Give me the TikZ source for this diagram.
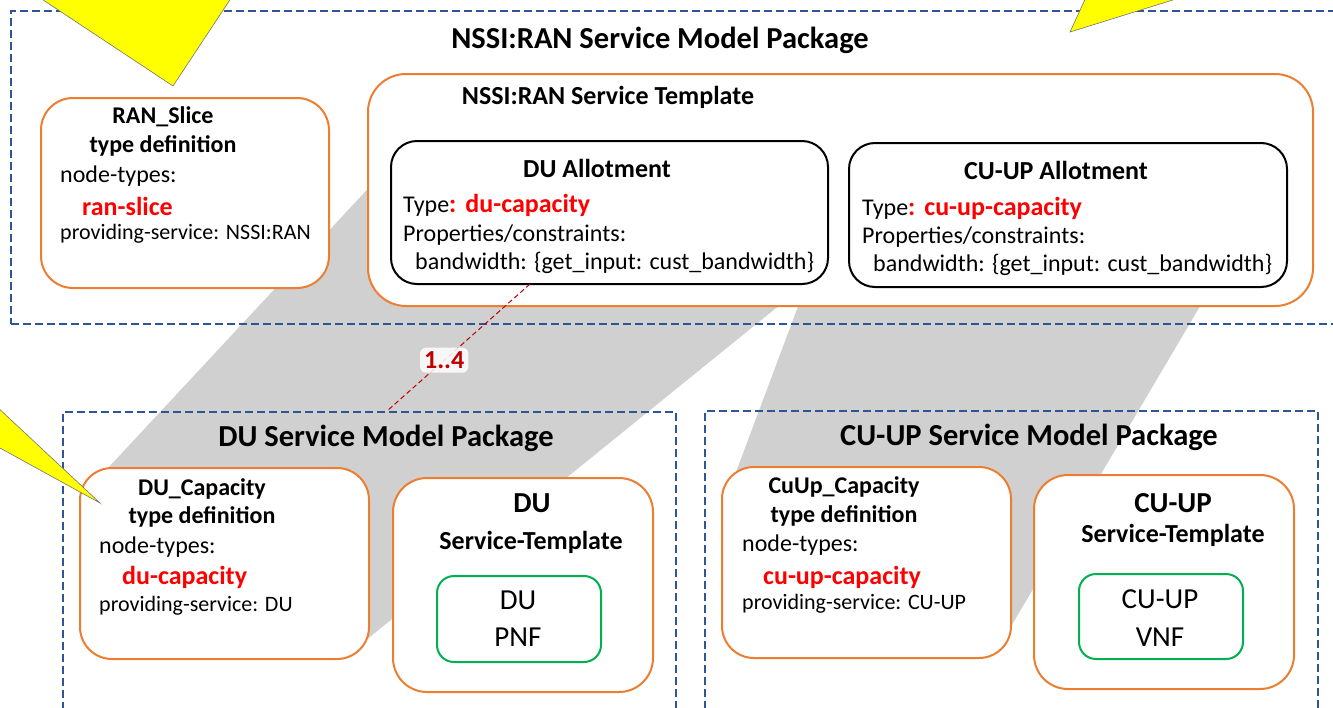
\documentclass[tikz,border=0pt]{standalone}
\usepackage{fontspec}
\setmainfont{Carlito}
\definecolor{pkgblue}{RGB}{47,85,151}
\definecolor{boxorange}{RGB}{237,125,49}
\definecolor{boxgreen}{RGB}{0,176,80}
\definecolor{typered}{RGB}{255,0,0}
\definecolor{linkred}{RGB}{192,0,0}
\definecolor{calloutyellow}{RGB}{255,255,0}
\definecolor{bandgray}{RGB}{208,208,208}
\newcommand{\fsPkg}{\fontsize{30.5}{36}\selectfont\bfseries}
\newcommand{\fsHead}{\fontsize{26}{31}\selectfont\bfseries}
\newcommand{\fsBox}{\fontsize{24}{29}\selectfont\bfseries}
\newcommand{\fsText}{\fontsize{24}{29}\selectfont}
\newcommand{\fsRed}{\fontsize{26}{31}\selectfont\bfseries\color{typered}}
\newcommand{\fsProv}{\fontsize{22}{26}\selectfont}
\newcommand{\fsBig}{\fontsize{29}{34}\selectfont}

\begin{document}
\begin{tikzpicture}[x=1pt, y=-1pt,
    pkg/.style={draw=pkgblue, line width=1.8pt, dash pattern=on 8pt off 4pt, anchor=north west, inner sep=0pt},
    obox/.style={draw=boxorange, line width=2pt, fill=white, rounded corners=32pt, anchor=north west, inner sep=0pt},
    kbox/.style={draw=black, line width=2pt, fill=white, rounded corners=26pt, anchor=north west, inner sep=0pt},
    gbox/.style={draw=boxgreen, line width=2pt, fill=white, rounded corners=17pt, anchor=north west, inner sep=0pt},
    txt/.style={anchor=west, inner sep=0pt, font=\fsText},
    ctxt/.style={anchor=center, inner sep=0pt},
    callout/.style={fill=calloutyellow, draw=black!55, line width=0.6pt}]
    \useasboundingbox (0,0) rectangle (1333,707);
    \clip (0,0) rectangle (1333,707);

    % Gray bands from the allotments down to the capacity types
    \fill[bandgray] (390,165) -- (807,283) -- (360,645) -- (108,468) -- cycle;
    \fill[bandgray] (848,173) -- (1212,286) -- (1000,645) -- (736,472) -- cycle;

    % NSSI:RAN package
    \node[pkg, minimum width=1340pt, minimum height=313pt] (nssipkg) at (10,10) {};
    \node[ctxt, font=\fsPkg] (nssititle) at (660,40) {NSSI:RAN Service Model Package};

    % RAN_Slice type definition
    \node[obox, minimum width=288pt, minimum height=190pt] (ranslice) at (40,97) {};
    \node[ctxt, font=\fsBox] (ransliceA) at (163,117) {RAN\_Slice};
    \node[ctxt, font=\fsBox] (ransliceB) at (163,146) {type definition};
    \node[txt] (ransliceC) at (60,176) {node-types:};
    \node[txt, font=\fsRed] (ransliceD) at (82,206) {ran-slice};
    \node[txt, font=\fsProv] (ransliceE) at (60,234) {providing-service: NSSI:RAN};

    % NSSI:RAN service template
    \node[obox, rounded corners=38pt, minimum width=945pt, minimum height=232pt] (nssist) at (367,73) {};
    \node[ctxt, font=\fsHead] (nssisttitle) at (608,97) {NSSI:RAN Service Template};

    % DU allotment
    \node[kbox, minimum width=437pt, minimum height=143pt] (duallot) at (390,140) {};
    \node[ctxt, font=\fsHead] (duallotA) at (597,168) {DU Allotment};
    \node[txt] (duallotB) at (403,205) {Type{\fsRed:\hspace{9pt}du-capacity}};
    \node[txt] (duallotC) at (403,235) {Properties/constraints:};
    \node[txt] (duallotD) at (415,263) {bandwidth: \{get\_input: cust\_bandwidth\}};

    % CU-UP allotment
    \node[kbox, minimum width=438pt, minimum height=144pt] (cuallot) at (848,142) {};
    \node[ctxt, font=\fsHead] (cuallotA) at (1056,170) {CU-UP Allotment};
    \node[txt] (cuallotB) at (862,208) {Type{\fsRed:\hspace{9pt}cu-up-capacity}};
    \node[txt] (cuallotC) at (862,237) {Properties/constraints:};
    \node[txt] (cuallotD) at (873,265) {bandwidth: \{get\_input: cust\_bandwidth\}};

    % DU package
    \node[pkg, minimum width=613pt, minimum height=320pt] (dupkg) at (62,411) {};
    \node[ctxt, font=\fsPkg] (dupkgtitle) at (386,438) {DU Service Model Package};

    % DU_Capacity type definition
    \node[obox, minimum width=289pt, minimum height=191pt] (ducap) at (79,467) {};
    \node[ctxt, font=\fsBox] (ducapA) at (202,489) {DU\_Capacity};
    \node[ctxt, font=\fsBox] (ducapB) at (202,517) {type definition};
    \node[txt] (ducapC) at (99,547) {node-types:};
    \node[txt, font=\fsRed] (ducapD) at (122,577) {du-capacity};
    \node[txt, font=\fsProv] (ducapE) at (99,606) {providing-service: DU};

    % DU service template
    \node[obox, rounded corners=34pt, minimum width=260pt, minimum height=214pt] (dust) at (392,477) {};
    \node[ctxt, font=\fsBig\bfseries] (dustA) at (532,503) {DU};
    \node[ctxt, font=\fsHead] (dustB) at (531,542) {Service-Template};
    \node[gbox, minimum width=164pt, minimum height=86pt] (dupnf) at (436,575) {};
    \node[ctxt, font=\fsBig] (dupnfA) at (518,600) {DU};
    \node[ctxt, font=\fsBig] (dupnfB) at (518,637) {PNF};

    % CU-UP package
    \node[pkg, minimum width=613pt, minimum height=320pt] (cupkg) at (704,410) {};
    \node[ctxt, font=\fsPkg] (cupkgtitle) at (1029,437) {CU-UP Service Model Package};

    % CuUp_Capacity type definition
    \node[obox, minimum width=289pt, minimum height=191pt] (cucap) at (721,466) {};
    \node[ctxt, font=\fsBox] (cucapA) at (844,487) {CuUp\_Capacity};
    \node[ctxt, font=\fsBox] (cucapB) at (844,516) {type definition};
    \node[txt] (cucapC) at (742,545) {node-types:};
    \node[txt, font=\fsRed] (cucapD) at (763,577) {cu-up-capacity};
    \node[txt, font=\fsProv] (cucapE) at (742,604) {providing-service: CU-UP};

    % CU-UP service template
    \node[obox, rounded corners=34pt, minimum width=260pt, minimum height=214pt] (cust) at (1033,474) {};
    \node[ctxt, font=\fsBig\bfseries] (custA) at (1173,503) {CU-UP};
    \node[ctxt, font=\fsHead] (custB) at (1173,535) {Service-Template};
    \node[gbox, minimum width=164pt, minimum height=85pt] (cuvnf) at (1078,573) {};
    \node[ctxt, font=\fsBig] (cuvnfA) at (1160,599) {CU-UP};
    \node[ctxt, font=\fsBig] (cuvnfB) at (1160,637) {VNF};

    % Multiplicity link
    \coordinate (linkA) at (530,284);
    \coordinate (linkB) at (387,411);
    \draw[linkred, line width=1pt, dash pattern=on 5pt off 3pt] (linkA) -- (linkB)
        node[pos=0.6, fill=white, fill opacity=0.85, text opacity=1, rounded corners=6pt,
             inner sep=4pt, font=\fsHead, text=linkred] (mult) {1..4};

    % Callouts
    \filldraw[callout] (13,-20) -- (173,86) -- (243,-20) -- cycle;
    \filldraw[callout] (1094,-20) -- (1070,32) -- (1237,-20) -- cycle;
    \filldraw[callout] (-20,391) -- (100,503) -- (-20,437) -- cycle;
\end{tikzpicture}
\end{document}
